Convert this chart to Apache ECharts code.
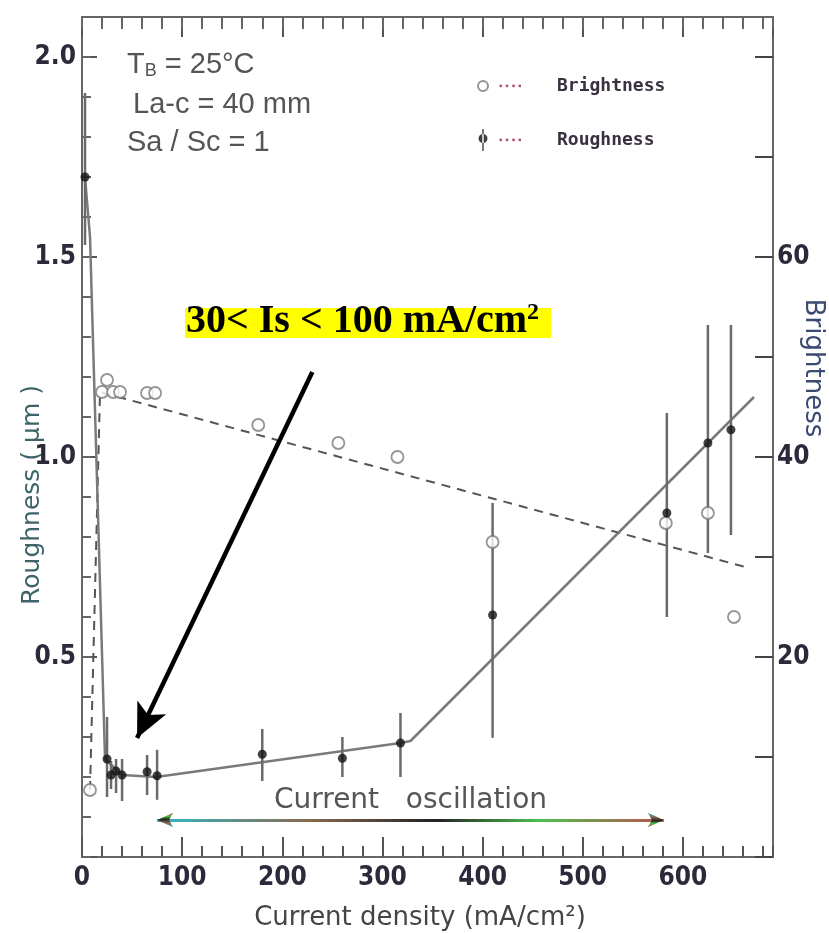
<!DOCTYPE html>
<html><head><meta charset="utf-8">
<script src="https://cdn.jsdelivr.net/npm/echarts@6/dist/echarts.min.js"></script>
<style>html,body{margin:0;padding:0;background:#fff}#c{width:829px;height:933px}</style>
</head><body><div id="c"></div>
<script>
// Roughness (µm) measurements with error bars
const roughX  = [3, 25, 29, 34, 40, 65, 75, 180, 260, 318, 410, 584, 625, 648];
const roughY  = [1.70, 0.245, 0.205, 0.215, 0.205, 0.213, 0.203, 0.257, 0.247, 0.285, 0.605, 0.86, 1.035, 1.068];
const roughLo = [1.53, 0.15, 0.17, 0.16, 0.14, 0.155, 0.143, 0.19, 0.20, 0.20, 0.298, 0.60, 0.76, 0.805];
const roughHi = [1.91, 0.35, 0.24, 0.245, 0.245, 0.255, 0.268, 0.32, 0.30, 0.36, 0.885, 1.11, 1.33, 1.33];
// Brightness measurements
const brightX = [8, 20, 25, 31, 38, 65, 73, 176, 256, 315, 410, 583, 625, 651];
const brightY = [6.7, 46.5, 47.7, 46.5, 46.5, 46.4, 46.4, 43.2, 41.4, 40.0, 31.5, 33.4, 34.4, 24.0];
// Hand-drawn trend lines
const roughFitX  = [3, 8, 23, 40, 74, 318, 328, 671];
const roughFitY  = [1.70, 1.55, 0.245, 0.205, 0.20, 0.285, 0.29, 1.15];
const brightFitX = [8, 18, 666];
const brightFitY = [6.7, 46.5, 28.9];
// Annotations (data coordinates)
const arrowFrom = [230, 1.2125];
const arrowTo   = [55, 0.2975];
const oscFromX = 75, oscToX = 581, oscY = 0.0925;
const rightLabels = [20, 40, 60];

const NUMFONT = "'Liberation Sans Narrow','DejaVu Sans Condensed','Arial Narrow','Liberation Sans',sans-serif";
const chart = echarts.init(document.getElementById('c'), null, {renderer: 'canvas'});

const axisLine = {show: true, onZero: false, lineStyle: {color: '#666', width: 2}};
const xBase = {type: 'value', min: 0, max: 690, gridIndex: 0, splitLine: {show: false}, axisLine};

const option = {
  animation: false,
  backgroundColor: '#fff',
  grid: {left: 82, right: 56, top: 17, bottom: 76, containLabel: false},
  xAxis: [
    Object.assign({}, xBase, {position: 'bottom', interval: 100,
      axisTick: {show: true, inside: true, length: 20, lineStyle: {color: '#555', width: 2}},
      axisLabel: {show: true, showMaxLabel: false, margin: 8, color: '#2a2a3a', fontFamily: NUMFONT, fontWeight: 'bold', fontSize: 26}}),
    Object.assign({}, xBase, {position: 'bottom', interval: 20,
      axisTick: {show: true, inside: true, length: 11, lineStyle: {color: '#555', width: 2}},
      axisLabel: {show: false}}),
    Object.assign({}, xBase, {position: 'top', interval: 100,
      axisTick: {show: true, inside: true, length: 20, lineStyle: {color: '#555', width: 2}},
      axisLabel: {show: false}}),
    Object.assign({}, xBase, {position: 'top', interval: 20,
      axisTick: {show: true, inside: true, length: 12, lineStyle: {color: '#666', width: 2}},
      axisLabel: {show: false}})
  ],
  yAxis: [
    {type: 'value', min: 0, max: 2.1, interval: 0.5, position: 'left', splitLine: {show: false}, axisLine,
      axisTick: {show: true, inside: true, length: 15, lineStyle: {color: '#555', width: 2}},
      axisLabel: {show: true, showMaxLabel: false, margin: 6, color: '#2a2a3a', fontFamily: NUMFONT, fontWeight: 'bold', fontSize: 26,
        formatter: v => v === 0 ? '' : v.toFixed(1)}},
    {type: 'value', min: 0, max: 2.1, interval: 0.1, position: 'left', splitLine: {show: false}, axisLine,
      axisTick: {show: true, inside: true, length: 9, lineStyle: {color: '#666', width: 2}},
      axisLabel: {show: false}},
    {type: 'value', min: 0, max: 84, interval: 10, position: 'right', splitLine: {show: false}, axisLine,
      axisTick: {show: true, inside: true, length: 18, lineStyle: {color: '#444', width: 2}},
      axisLabel: {show: true, showMaxLabel: false, margin: 4, color: '#2a2a3a', fontFamily: NUMFONT, fontWeight: 'bold', fontSize: 26,
        formatter: v => rightLabels.indexOf(v) >= 0 ? String(v) : ''}}
  ],
  legend: {
    show: true, orient: 'vertical', left: 472, top: 72, itemGap: 34, itemWidth: 10, itemHeight: 22,
    selectedMode: false,
    data: [
      {name: 'Brightness', icon: 'circle'},
      {name: 'Roughness', icon: 'path://M4.3,0 H5.7 V22 H4.3 Z M5,9.5 m-4.5,0 a4.5,4.5 0 1,0 9,0 a4.5,4.5 0 1,0 -9,0 Z'}
    ],
    formatter: n => '{d|▪ ▪ ▪ ▪}{t|' + n + '}',
    textStyle: {
      rich: {
        d: {color: '#b0506a', fontSize: 10, width: 58, align: 'left', padding: [0, 0, 0, 6]},
        t: {color: '#3a3040', fontSize: 18, fontWeight: 'bold', fontFamily: "'DejaVu Sans Mono',monospace", lineHeight: 22}
      }
    }
  },
  series: [
    {
      name: 'Brightness trend', type: 'line', xAxisIndex: 0, yAxisIndex: 2,
      data: brightFitX.map((x, i) => [x, brightFitY[i]]),
      showSymbol: false, symbol: 'none', silent: true, z: 2,
      lineStyle: {color: '#555', width: 2, type: [9, 7]}
    },
    {
      name: 'Roughness trend', type: 'line', xAxisIndex: 0, yAxisIndex: 0,
      data: roughFitX.map((x, i) => [x, roughFitY[i]]),
      showSymbol: false, symbol: 'none', silent: true, z: 2,
      lineStyle: {color: '#7a7a7a', width: 2.5},
      markLine: {
        silent: true, animation: false,
        label: {show: false},
        data: [
          [
            {coord: arrowFrom, symbol: 'none', lineStyle: {color: '#000', width: 4.5, type: 'solid'}, label: {show: false}},
            {coord: arrowTo, symbol: 'arrow', symbolSize: [24, 34]}
          ],
          [
            {coord: [oscFromX, oscY], symbol: 'arrow', symbolSize: [11, 16],
              lineStyle: {width: 3, type: 'solid',
                color: new echarts.graphic.LinearGradient(0, 0, 1, 0, [
                  {offset: 0, color: '#2fb8c8'}, {offset: 0.3, color: '#8a6a50'}, {offset: 0.55, color: '#222'},
                  {offset: 0.75, color: '#4cc04c'}, {offset: 1, color: '#c05050'}])},
              label: {show: true, position: 'middle', formatter: 'Current   oscillation', distance: 5,
                color: '#555', fontSize: 28, fontFamily: "'DejaVu Sans',sans-serif"}},
            {coord: [oscToX, oscY], symbol: 'arrow', symbolSize: [11, 16]}
          ]
        ]
      }
    },
    {
      name: 'Roughness error', type: 'custom', xAxisIndex: 0, yAxisIndex: 0, silent: true, z: 3,
      data: roughX.map((x, i) => [x, roughLo[i], roughHi[i]]),
      encode: {x: 0, y: [1, 2]},
      renderItem: (params, api) => {
        const x = api.value(0);
        const p1 = api.coord([x, api.value(2)]);
        const p2 = api.coord([x, api.value(1)]);
        return {type: 'line', shape: {x1: p1[0], y1: p1[1], x2: p2[0], y2: p2[1]},
          style: {stroke: '#6a6a6a', lineWidth: 2.5}};
      }
    },
    {
      name: 'Brightness', type: 'scatter', xAxisIndex: 0, yAxisIndex: 2, z: 4,
      data: brightX.map((x, i) => [x, brightY[i]]),
      symbol: 'circle', symbolSize: 12,
      itemStyle: {color: '#fff', borderColor: '#7a7a7a', borderWidth: 1.8}
    },
    {
      name: 'Roughness', type: 'scatter', xAxisIndex: 0, yAxisIndex: 0, z: 5,
      data: roughX.map((x, i) => [x, roughY[i]]),
      symbol: 'circle', symbolSize: 9,
      itemStyle: {color: '#111'}
    }
  ],
  graphic: [
    {type: 'text', x: 127, y: 65, silent: true,
      style: {text: 'T{b|B} = 25°C', fill: '#555', fontSize: 29, fontFamily: "'Liberation Sans',sans-serif", verticalAlign: 'middle',
        rich: {b: {fontSize: 18, fill: '#555', fontFamily: "'Liberation Sans',sans-serif", verticalAlign: 'bottom', padding: [12, 0, 0, 0]}}}},
    {type: 'text', x: 133, y: 105, silent: true,
      style: {text: 'La-c = 40 mm', fill: '#555', fontSize: 29, fontFamily: "'Liberation Sans',sans-serif", verticalAlign: 'middle'}},
    {type: 'text', x: 127, y: 143, silent: true,
      style: {text: 'Sa / Sc = 1', fill: '#555', fontSize: 29, fontFamily: "'Liberation Sans',sans-serif", verticalAlign: 'middle'}},
    {type: 'rect', silent: true, shape: {x: 185, y: 308, width: 366, height: 30}, style: {fill: '#ffff00'}, z: 10},
    {type: 'text', x: 186, y: 322, silent: true, z: 11,
      style: {text: '{a|30< Is < 100 mA/cm}{s|2}', verticalAlign: 'middle',
        rich: {
          a: {fontSize: 40, fontWeight: 'bold', fontFamily: "'Liberation Serif','Times New Roman',serif", fill: '#000', lineHeight: 42},
          s: {fontSize: 24, fontWeight: 'bold', fontFamily: "'Liberation Serif','Times New Roman',serif", fill: '#000', verticalAlign: 'top', lineHeight: 24}
        }}},
    {type: 'text', x: 32, y: 495, rotation: Math.PI / 2, silent: true,
      style: {text: 'Roughness ( μm )', fill: '#3e6468', fontSize: 25, fontFamily: "'DejaVu Sans',sans-serif", align: 'center', verticalAlign: 'middle'}},
    {type: 'text', x: 813, y: 368, rotation: -Math.PI / 2, silent: true,
      style: {text: 'Brightness', fill: '#3a4a70', fontSize: 26, fontFamily: "'DejaVu Sans',sans-serif", align: 'center', verticalAlign: 'middle'}},
    {type: 'text', x: 420, y: 918, silent: true,
      style: {text: 'Current density (mA/cm²)', fill: '#444', fontSize: 26, fontFamily: "'DejaVu Sans',sans-serif", align: 'center', verticalAlign: 'middle'}}
  ]
};
chart.setOption(option);
</script>
</body></html>
